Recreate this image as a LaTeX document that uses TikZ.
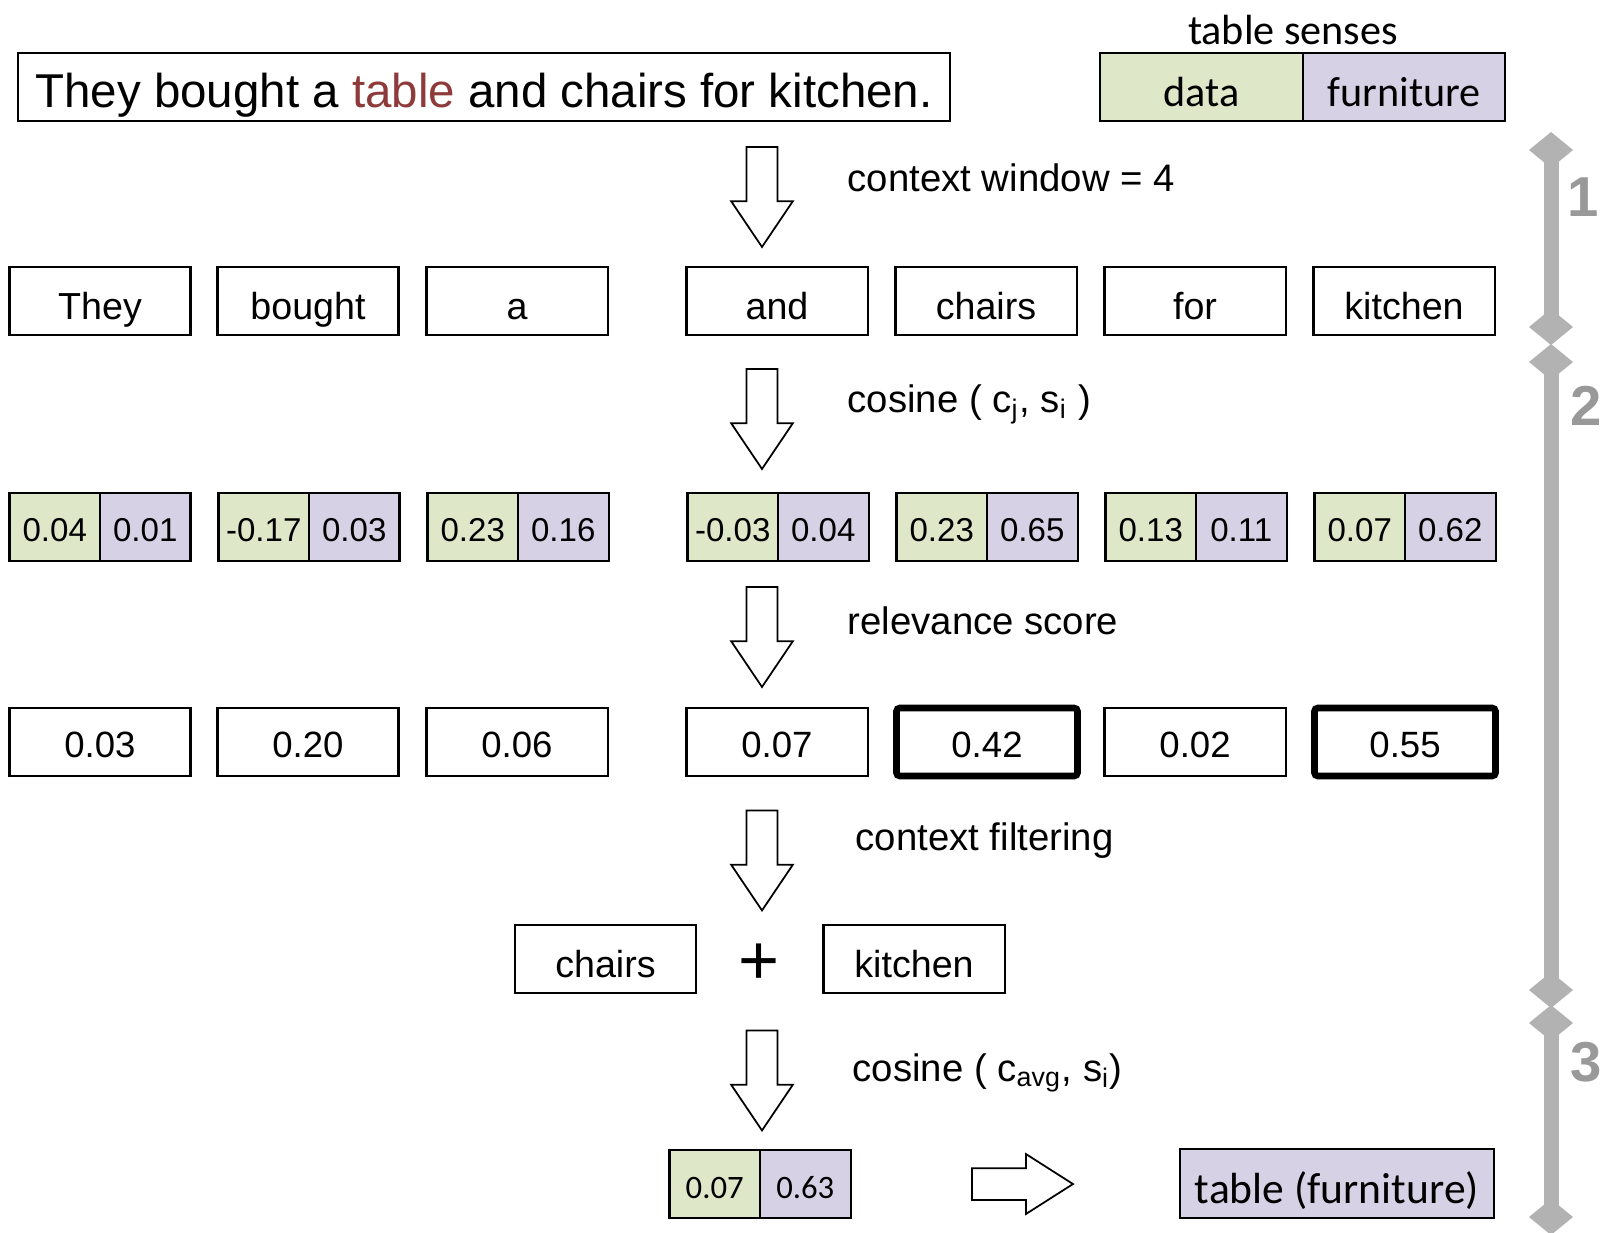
\documentclass[tikz,border=0pt]{standalone}
\usepackage{fontspec}
\setmainfont{Liberation Sans}
\newfontfamily\calib{Carlito}
\usetikzlibrary{shapes.arrows,shapes.geometric}

\definecolor{datagreen}{RGB}{222,232,201}
\definecolor{furnpurple}{RGB}{215,209,229}
\definecolor{tablered}{RGB}{142,58,58}

\tikzset{
  sentbox/.style={draw, line width=0.6pt, minimum width=9.32cm, minimum height=0.68cm, inner sep=0pt,
    text height=0.45cm, text depth=0.05cm, font=\fontsize{13.5}{16}\selectfont},
  sensecell/.style={draw, line width=0.6pt, minimum width=2.02cm, minimum height=0.68cm, inner sep=0pt, outer sep=0pt,
    text height=0.41cm, text depth=0.03cm, font=\calib\fontsize{12}{14}\selectfont},
  wordbox/.style={draw, line width=0.6pt, minimum width=1.81cm, minimum height=0.68cm, inner sep=0pt,
    text height=0.40cm, text depth=0.04cm, font=\fontsize{10.7}{12}\selectfont},
  scorebox/.style={wordbox, text height=0.33cm, text depth=0.03cm, font=\fontsize{10.4}{12}\selectfont},
  keybox/.style={scorebox, line width=1.9pt, rounded corners=1pt},
  datacell/.style={draw, line width=0.6pt, fill=datagreen, minimum width=0.905cm, minimum height=0.68cm,
    inner sep=0pt, outer sep=0pt, text height=0.32cm, text depth=0.03cm, font=\fontsize{9.4}{11}\selectfont},
  furncell/.style={datacell, fill=furnpurple},
  steplabel/.style={anchor=base west, inner sep=0pt, font=\fontsize{10.9}{13}\selectfont},
  downarrow/.style={single arrow, draw, line width=0.5pt, shape border rotate=270, minimum height=1cm,
    minimum width=0.6cm, inner sep=0.145cm, single arrow head extend=0.155cm, single arrow tip angle=68},
  stagemark/.style={diamond, fill=gray!60, minimum width=0.44cm, minimum height=0.36cm, inner sep=0pt, outer sep=0pt},
  stagebar/.style={gray!60, line width=0.15cm},
  stagenum/.style={text=gray!80, font=\fontsize{16}{18}\selectfont\bfseries}
}

\begin{document}
\begin{tikzpicture}[x=0.01cm, y=-0.01cm]
\useasboundingbox (0,0) rectangle (1602,1232);

% Sentence and senses
\node[sentbox] (sent) at (484,87) {They bought a \textcolor{tablered}{table} and chairs for kitchen.};
\node[sensecell, fill=datagreen, anchor=east, minimum width=2.03cm] (sdata) at (1303,87) {data};
\node[sensecell, fill=furnpurple, anchor=west] (sfurn) at (1303,87) {furniture};
\node[font=\calib\fontsize{12}{14}\selectfont] (senses) at (1293,30) {table senses};

% Context words
\node[downarrow] (arr1) at (762,185.5) {};
\node[steplabel] (lab1) at (847,191) {context window = 4};
\foreach \cx/\w [count=\i] in {100/They, 308/bought, 517/a, 777/and, 986/chairs, 1195/for, 1404/kitchen}
  \node[wordbox] (w\i) at (\cx,301) {\w};

% Cosine to each sense
\node[downarrow] (arr2) at (762,407.5) {};
\node[steplabel] (lab2) at (847,412) {cosine ( c\textsubscript{j}, s\textsubscript{i} )};
\foreach \cx/\va/\vb [count=\i] in {100/0.04/0.01, 309/-0.17/0.03, 518/0.23/0.16, 778/-0.03/0.04, 987/0.23/0.65, 1196/0.13/0.11, 1405/0.07/0.62}{
  \node[datacell, anchor=east] (d\i) at (\cx,527) {\va};
  \node[furncell, anchor=west] (f\i) at (\cx,527) {\vb};
}

% Relevance
\node[downarrow] (arr3) at (762,625.5) {};
\node[steplabel] (lab3) at (847,634.5) {relevance score};
\foreach \cx/\s/\st [count=\i] in {100/0.03/scorebox, 308/0.20/scorebox, 517/0.06/scorebox, 777/0.07/scorebox, 987/0.42/keybox, 1195/0.02/scorebox, 1405/0.55/keybox}
  \node[\st] (r\i) at (\cx,742) {\s};

% Filtering
\node[downarrow] (arr4) at (762,849) {};
\node[steplabel] (lab4) at (855,850) {context filtering};
\node[wordbox] (fchairs) at (605.5,959) {chairs};
\node[font=\fontsize{20}{22}\selectfont] (plus) at (759,964) {+};
\node[wordbox] (fkitchen) at (914,959) {kitchen};

% Averaged context
\node[downarrow] (arr5) at (762,1069) {};
\node[steplabel] (lab5) at (852,1081) {cosine ( c\textsubscript{avg}, s\textsubscript{i})};
\node[datacell, anchor=east, font=\calib\fontsize{9.3}{11}\selectfont] (avgd) at (760,1184) {0.07};
\node[furncell, anchor=west, font=\calib\fontsize{9.3}{11}\selectfont] (avgf) at (760,1184) {0.63};
\node[downarrow, shape border rotate=0, minimum height=1.01cm, minimum width=0.58cm, inner sep=0.15cm,
  single arrow head extend=0.14cm, single arrow tip angle=65] (resarr) at (1010,1184) {};
\node[sensecell, fill=furnpurple, minimum width=3.14cm, minimum height=0.69cm, text height=0.42cm,
  font=\calib\fontsize{12.4}{15}\selectfont] (res) at (1337,1183.5) {table (furniture)};

% Stages
\node[stagemark] (m1a) at (1551,150) {};
\node[stagemark] (m1b) at (1551,327) {};
\node[stagemark] (m2a) at (1551,362) {};
\node[stagemark] (m2b) at (1551,990) {};
\node[stagemark] (m3a) at (1551,1023) {};
\node[stagemark] (m3b) at (1551,1217) {};
\draw[stagebar] (m1a.center) -- (m1b.center);
\draw[stagebar] (m2a.center) -- (m2b.center);
\draw[stagebar] (m3a.center) -- (m3b.center);
\node[stagenum] (n1) at (1583,197) {1};
\node[stagenum] (n2) at (1586,406) {2};
\node[stagenum] (n3) at (1586,1062) {3};
\end{tikzpicture}
\end{document}
